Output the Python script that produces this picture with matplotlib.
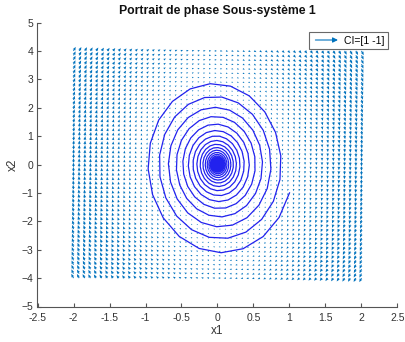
import numpy as np
import matplotlib
matplotlib.use("Agg")
import matplotlib.pyplot as plt
from matplotlib.legend_handler import HandlerBase
from matplotlib.patches import FancyArrowPatch
from matplotlib.lines import Line2D

# ---- data ----
title = "Portrait de phase Sous-système 1"
A = [[0.0, 1.0], [-9.5, -0.17]]       # system matrix
CI = [1.0, -1.0]                       # initial condition
x1_range = [-2.0, 2.0]
x2_range = [-4.0, 4.0]
n_grid = 52
t_end = 60.0
t_step = 0.1
legend_label = "CI=[1 -1]"
xticks = [-2.5, -2, -1.5, -1, -0.5, 0, 0.5, 1, 1.5, 2, 2.5]
xticklabels = ["-2.5", "-2", "-1.5", "-1", "-0.5", "0", "0.5", "1", "1.5", "2", "2.5"]
yticks = [-5, -4, -3, -2, -1, 0, 1, 2, 3, 4, 5]

plt.rcParams['font.family'] = ['Liberation Sans', 'DejaVu Sans']

Am = np.array(A)
gx = np.linspace(x1_range[0], x1_range[1], n_grid)
gy = np.linspace(x2_range[0], x2_range[1], n_grid)
X, Y = np.meshgrid(gx, gy)
U = Am[0, 0] * X + Am[0, 1] * Y
V = Am[1, 0] * X + Am[1, 1] * Y

# MATLAB-like autoscale
delx = (gx.max() - gx.min()) / n_grid
dely = (gy.max() - gy.min()) / n_grid
maxmag = np.sqrt(U**2 + V**2).max()
sc = 0.9 * np.sqrt(delx**2 + dely**2) / maxmag

# trajectory (RK4)
def f(s):
    return Am @ s
sub = 10
h = t_step / sub
s = np.array(CI)
traj = [s.copy()]
for k in range(int(t_end / t_step)):
    for _ in range(sub):
        k1 = f(s); k2 = f(s + h/2*k1); k3 = f(s + h/2*k2); k4 = f(s + h*k3)
        s = s + h/6*(k1 + 2*k2 + 2*k3 + k4)
    traj.append(s.copy())
traj = np.array(traj)

fig = plt.figure(figsize=(4.06, 3.42), dpi=100)
ax = fig.add_axes([37.5/406, 1 - 306.5/342, 360/406, 284/342])

qcol = '#0072BD'
ax.quiver(X, Y, U, V, angles='xy', scale_units='xy', scale=1/sc, color=qcol,
          width=0.0028, headwidth=3, headlength=3.5, headaxislength=3, minlength=0.5)
ax.plot(traj[:, 0], traj[:, 1], color='#2222ee', lw=0.9)

ax.set_xlim(-2.5, 2.5)
ax.set_ylim(-5, 5)
ax.set_xticks(xticks)
ax.set_xticklabels(xticklabels)
ax.set_yticks(yticks)
for sp in ['top', 'right']:
    ax.spines[sp].set_visible(False)
for sp in ['left', 'bottom']:
    ax.spines[sp].set_color('#555555')
    ax.spines[sp].set_linewidth(0.8)
ax.tick_params(direction='in', length=3, width=0.8, color='#555555',
               labelcolor='#333333', labelsize=7.5)
ax.tick_params(axis='x', pad=5)
ax.tick_params(axis='y', pad=3)
ax.set_xlabel('x1', fontsize=8.5, color='#333333', labelpad=1)
ax.set_ylabel('x2', fontsize=8.5, color='#333333', labelpad=2)
ax.set_title(title, fontsize=8.8, fontweight='bold', color='#111111', pad=6)

class ArrowHandler(HandlerBase):
    def create_artists(self, legend, orig_handle, xdescent, ydescent, width, height, fontsize, trans):
        p = FancyArrowPatch((-xdescent, height/2 - ydescent), (width - xdescent, height/2 - ydescent),
                            arrowstyle='-|>,head_length=3,head_width=1.5', color=qcol, lw=0.8,
                            mutation_scale=1, transform=trans)
        return [p]

hnd = Line2D([], [], color=qcol)
leg = ax.legend([hnd], [legend_label], handler_map={Line2D: ArrowHandler()},
                loc='upper right', bbox_to_anchor=(388/406, 1 - 32/342), bbox_transform=fig.transFigure,
                fontsize=7.5, frameon=True, fancybox=False, borderpad=0.35, handlelength=2.7,
                handletextpad=0.3, borderaxespad=0)
leg.get_frame().set_edgecolor('#444444')
leg.get_frame().set_linewidth(0.8)

fig.savefig('out.png', dpi=100)
